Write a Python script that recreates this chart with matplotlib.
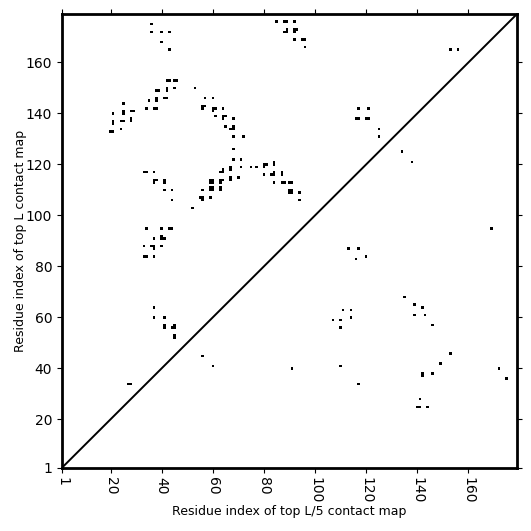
import numpy as np
import matplotlib
matplotlib.use("Agg")
from matplotlib import pyplot as plt

seq_len = 179

# (column, row) of contacts; above the diagonal: top L, below: top L/5
top_l_contacts = [
    (36, 175), (36, 172), (40, 172), (43, 172), (40, 168), (43, 165),
    (42, 153), (43, 153), (45, 153), (46, 153),
    (38, 149), (39, 149), (42, 149), (42, 150), (45, 150), (53, 150),
    (35, 145), (38, 145), (38, 146), (41, 146), (42, 146), (57, 146), (60, 146),
    (25, 144), (34, 142), (37, 142), (38, 142),
    (21, 140), (25, 140), (25, 141), (28, 141), (29, 141),
    (21, 136), (21, 137), (24, 137), (25, 137), (28, 137), (28, 138),
    (24, 134), (20, 133), (21, 133),
    (56, 142), (56, 143), (57, 143), (60, 142), (61, 142), (60, 141), (64, 142),
    (61, 139), (64, 138), (64, 139), (65, 139), (68, 138),
    (65, 135), (67, 134), (68, 134), (68, 135), (68, 131), (72, 131),
    (68, 126), (68, 122), (71, 122),
    (67, 118), (67, 119), (63, 117), (64, 117), (64, 118), (70, 115),
    (71, 119), (75, 119), (77, 119), (80, 119), (80, 120), (81, 120),
    (84, 120), (84, 121),
    (80, 116), (83, 116), (84, 116), (84, 117), (87, 116), (87, 117),
    (84, 113), (87, 113), (88, 113), (90, 113), (91, 113),
    (90, 109), (90, 110), (91, 109), (91, 110), (94, 109), (94, 106),
    (33, 117), (34, 117), (37, 117), (37, 113), (37, 114), (38, 114),
    (41, 113), (41, 114),
    (59, 113), (60, 113), (59, 114), (60, 114), (63, 114), (64, 114),
    (63, 113), (67, 114), (67, 115),
    (41, 110), (44, 110), (44, 106), (52, 103),
    (56, 110), (59, 110), (60, 110), (59, 111), (60, 111), (63, 110), (63, 111),
    (55, 107), (56, 107), (56, 106), (59, 107),
    (34, 95), (40, 95), (43, 95), (44, 95),
    (37, 91), (40, 91), (40, 92), (41, 91),
    (33, 88), (36, 88), (37, 88), (37, 87), (40, 88),
    (33, 84), (34, 84), (37, 84),
    (37, 64), (37, 60), (41, 60), (41, 56), (41, 57),
    (44, 56), (45, 56), (45, 57), (45, 52), (45, 53),
    (27, 34), (28, 34),
    (85, 179), (85, 176), (88, 176), (89, 176), (92, 176),
    (88, 172), (89, 172), (89, 173), (92, 172), (92, 173), (93, 173),
    (92, 169), (95, 169), (96, 169), (96, 166),
    (117, 142), (121, 142), (116, 138), (117, 138), (120, 138), (121, 138),
    (125, 134), (125, 131),
    (153, 165), (156, 165),
]

top_l5_contacts = [
    (169, 95), (113, 87), (117, 87), (116, 83), (120, 84),
    (134, 125), (138, 121),
    (135, 68), (139, 65), (142, 64), (139, 61), (143, 61), (146, 57),
    (111, 63), (114, 63), (107, 59), (110, 59), (114, 60), (110, 56),
    (153, 46), (149, 42), (142, 37), (142, 38), (146, 38), (110, 41),
    (117, 34), (141, 28), (140, 25), (141, 25), (144, 25),
    (172, 40), (175, 36), (91, 40), (60, 41), (56, 45),
]

tick_vals = [1, 20, 40, 60, 80, 100, 120, 140, 160]


def build_map(contacts, size):
    cmap = np.zeros((size, size))
    for col, row in contacts:
        cmap[row - 1, col - 1] = 1
    return cmap


def main():
    cmap = build_map(top_l_contacts + top_l5_contacts, seq_len)

    fig = plt.figure(figsize=(5.31, 5.31), dpi=100)
    ax = fig.add_axes([0.1168, 0.1192, 0.8568, 0.8544])

    ax.imshow(cmap, cmap="Greys", vmin=0, vmax=1, origin="lower",
              interpolation="nearest", aspect="auto",
              extent=(0.5, seq_len + 0.5, 0.5, seq_len + 0.5))
    ax.plot([1, seq_len], [1, seq_len], "-", color="black", lw=1.4)

    ax.set_xlim(1, seq_len)
    ax.set_ylim(1, seq_len)
    ax.set_xticks(tick_vals)
    ax.set_yticks(tick_vals)
    ax.tick_params(top=True, right=True, direction="out")
    ax.tick_params(axis="x", labelrotation=270)
    for spine in ax.spines.values():
        spine.set_linewidth(2)

    ax.set_xlabel("Residue index of top L/5 contact map", fontsize=9, labelpad=1)
    ax.set_ylabel("Residue index of top L contact map", fontsize=9, labelpad=-1)

    fig.savefig("out.png", dpi=100)


if __name__ == "__main__":
    main()
